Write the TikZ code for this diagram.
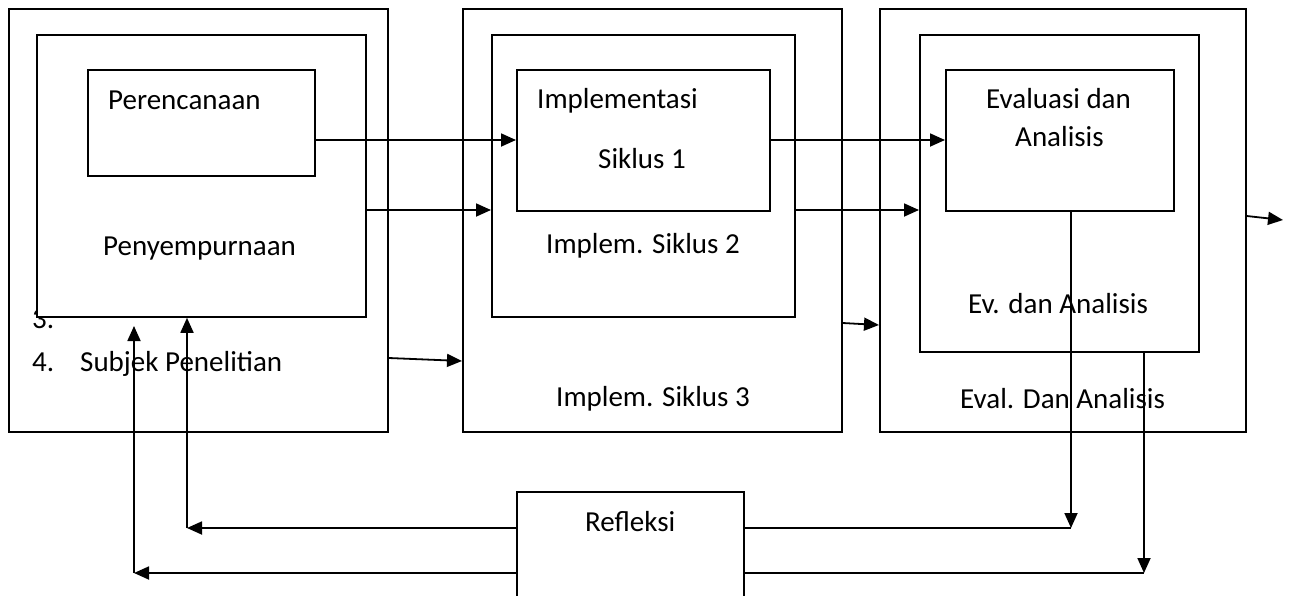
\documentclass[tikz,border=0pt]{standalone}
\usepackage{fontspec}
\setmainfont{Carlito}
\usetikzlibrary{arrows.meta}
\begin{document}
\begin{tikzpicture}[x=1pt,y=-1pt,
  box/.style={draw, line width=1.8pt, anchor=north west, inner sep=0pt, fill=white},
  lbl/.style={anchor=base west, inner sep=0pt, font=\fontsize{29pt}{35pt}\selectfont},
  ln/.style={line width=1.8pt},
  arr/.style={line width=1.8pt, -{Triangle[length=15pt,width=13pt]}}]
\useasboundingbox (0,0) rectangle (1291,595);
% left column
\node[box, minimum width=379pt, minimum height=423pt] (po) at (8,8) {};
\node[lbl] (t3) at (32,328) {3.};
\node[box, minimum width=329pt, minimum height=282pt] (pm) at (36,34) {};
\node[box, minimum width=227pt, minimum height=106pt] (pi) at (87,69) {};
\node[lbl] (tper) at (108,109) {Perencanaan};
\node[lbl] (tpen) at (103,255) {Penyempurnaan};
\node[lbl] (t4) at (32,371) {4.};
\node[lbl] (tsub) at (80,371) {Subjek Penelitian};
% middle column
\node[box, minimum width=379pt, minimum height=423pt] (io) at (462,8) {};
\node[box, minimum width=303pt, minimum height=282pt] (im) at (491,34) {};
\node[box, minimum width=253pt, minimum height=141pt] (ii) at (516,69) {};
\node[lbl] (timp) at (537,108) {Implementasi};
\node[lbl] (ts1) at (598,168) {Siklus 1};
\node[lbl] (ts2) at (546,253) {Implem. Siklus 2};
\node[lbl] (ts3) at (556,406) {Implem. Siklus 3};
% right column
\node[box, minimum width=366pt, minimum height=423pt] (eo) at (879,8) {};
\node[box, minimum width=279pt, minimum height=317pt] (em) at (919,34) {};
\node[box, minimum width=228pt, minimum height=141pt] (ei) at (945,69) {};
\node[lbl] (tev1) at (986,108) {Evaluasi dan};
\node[lbl] (tev2) at (1015,146) {Analisis};
\node[lbl] (tev3) at (968,313) {Ev. dan Analisis};
\node[lbl] (tev4) at (960,408) {Eval. Dan Analisis};
% refleksi
\node[box, minimum width=227pt, minimum height=114pt] (rf) at (516,491) {};
\node[lbl] (trf) at (585,531) {Refleksi};
% level coordinates
\coordinate (y1) at (0,140);
\coordinate (y2) at (0,210);
\coordinate (a3s) at (0,358);
\coordinate (a3e) at (0,361);
\coordinate (b3s) at (0,323);
\coordinate (b3e) at (0,325);
\coordinate (c1) at (1071,528);
\coordinate (c2) at (1144,573);
\coordinate (l1) at (187,528);
\coordinate (l2) at (134,573);
\coordinate (l2top) at (134,326);
\coordinate (outs) at (0,216);
\coordinate (oute) at (1283,220);
% forward arrows
\draw[arr] (pi.east |- y1) -- (ii.west |- y1);
\draw[arr] (pm.east |- y2) -- (im.west |- y2);
\draw[arr] (po.east |- a3s) -- (io.west |- a3e);
\draw[arr] (ii.east |- y1) -- (ei.west |- y1);
\draw[arr] (im.east |- y2) -- (em.west |- y2);
\draw[arr] (io.east |- b3s) -- (eo.west |- b3e);
\draw[arr] (eo.east |- outs) -- (oute);
% feedback
\draw[arr] (ei.south -| c1) -- (c1);
\draw[ln] (rf.east |- c1) -- (c1);
\draw[arr] (em.south -| c2) -- (c2);
\draw[ln] (rf.east |- c2) -- (c2);
\draw[arr] (rf.west |- l1) -- (l1);
\draw[arr] (l1) -- (pm.south -| l1);
\draw[arr] (rf.west |- l2) -- (l2);
\draw[arr] (l2) -- (l2top);
\end{tikzpicture}
\end{document}
